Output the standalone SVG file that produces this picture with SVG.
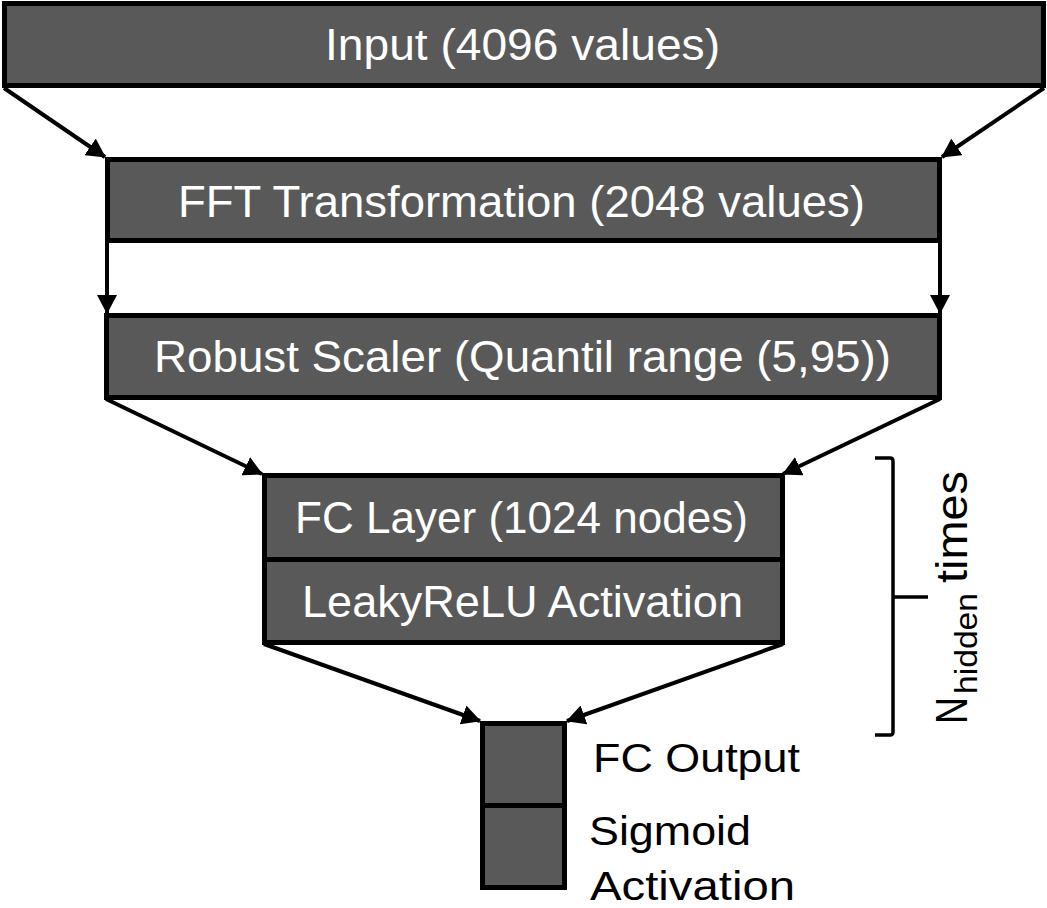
<svg xmlns="http://www.w3.org/2000/svg" width="1047" height="908" viewBox="0 0 1047 908">
<style>
.box{fill:#595959;stroke:#000;stroke-width:5}
.bt{font-family:"Liberation Sans",Arial,sans-serif;font-size:45px;fill:#fff}
.lt{font-family:"Liberation Sans",Arial,sans-serif;font-size:41px;fill:#000}
.conn{stroke:#000;stroke-width:4;fill:none;marker-end:url(#ah)}
</style>
<defs>
<marker id="ah" markerUnits="userSpaceOnUse" markerWidth="19" markerHeight="20" viewBox="0 0 19 20" refX="18" refY="10" orient="auto">
<path d="M0,0 L19,10 L0,20 z" fill="#000"/>
</marker>
</defs>
<rect width="1047" height="908" fill="#fff"/>
<g id="connectors">
<line class="conn" x1="4" y1="88" x2="105" y2="157"/>
<line class="conn" x1="1044" y1="88" x2="942" y2="157"/>
<line class="conn" x1="107" y1="242" x2="107" y2="313"/>
<line class="conn" x1="940" y1="242" x2="940" y2="313"/>
<line class="conn" x1="106" y1="399" x2="262" y2="474"/>
<line class="conn" x1="940" y1="399" x2="783" y2="474"/>
<line class="conn" x1="264" y1="644" x2="480" y2="721"/>
<line class="conn" x1="783" y1="644" x2="567" y2="721"/>
</g>
<g id="input">
<rect class="box" x="4.5" y="3.5" width="1039" height="82"/>
<text class="bt" x="325" y="60" textLength="395" lengthAdjust="spacingAndGlyphs">Input (4096 values)</text>
</g>
<g id="fft">
<rect class="box" x="107.5" y="159.5" width="832" height="81"/>
<text class="bt" x="178" y="217" textLength="687" lengthAdjust="spacingAndGlyphs">FFT Transformation (2048 values)</text>
</g>
<g id="robust">
<rect class="box" x="106.5" y="315.5" width="833" height="82"/>
<text class="bt" x="154" y="372" textLength="737" lengthAdjust="spacingAndGlyphs">Robust Scaler (Quantil range (5,95))</text>
</g>
<g id="fc-layer">
<rect class="box" x="264.5" y="475.5" width="518" height="84"/>
<text class="bt" x="295" y="533" textLength="453" lengthAdjust="spacingAndGlyphs">FC Layer (1024 nodes)</text>
</g>
<g id="leakyrelu">
<rect class="box" x="264.5" y="559.5" width="518" height="83"/>
<text class="bt" x="302" y="617" textLength="441" lengthAdjust="spacingAndGlyphs">LeakyReLU Activation</text>
</g>
<g id="fc-output">
<rect class="box" x="482.5" y="723.5" width="82" height="82"/>
<text class="lt" x="593" y="772" textLength="207" lengthAdjust="spacingAndGlyphs">FC Output</text>
</g>
<g id="sigmoid">
<rect class="box" x="482.5" y="805.5" width="82" height="82"/>
<text class="lt" x="589" y="845" textLength="162" lengthAdjust="spacingAndGlyphs">Sigmoid</text>
<text class="lt" x="590" y="900" textLength="205" lengthAdjust="spacingAndGlyphs">Activation</text>
</g>
<g id="repeat-bracket">
<path d="M875,458 H890 Q893,458 893,461 V732 Q893,735 890,735 H875 M893,597 H928" fill="none" stroke="#000" stroke-width="3.5"/>
<text transform="translate(967,724) rotate(-90)" font-family="'Liberation Sans',Arial,sans-serif" fill="#000"><tspan x="0" y="0" font-size="45" textLength="27" lengthAdjust="spacingAndGlyphs">N</tspan><tspan x="30" y="10" font-size="32" textLength="101" lengthAdjust="spacingAndGlyphs">hidden</tspan><tspan x="141" y="0" font-size="44" textLength="112" lengthAdjust="spacingAndGlyphs">times</tspan></text>
</g>
</svg>
